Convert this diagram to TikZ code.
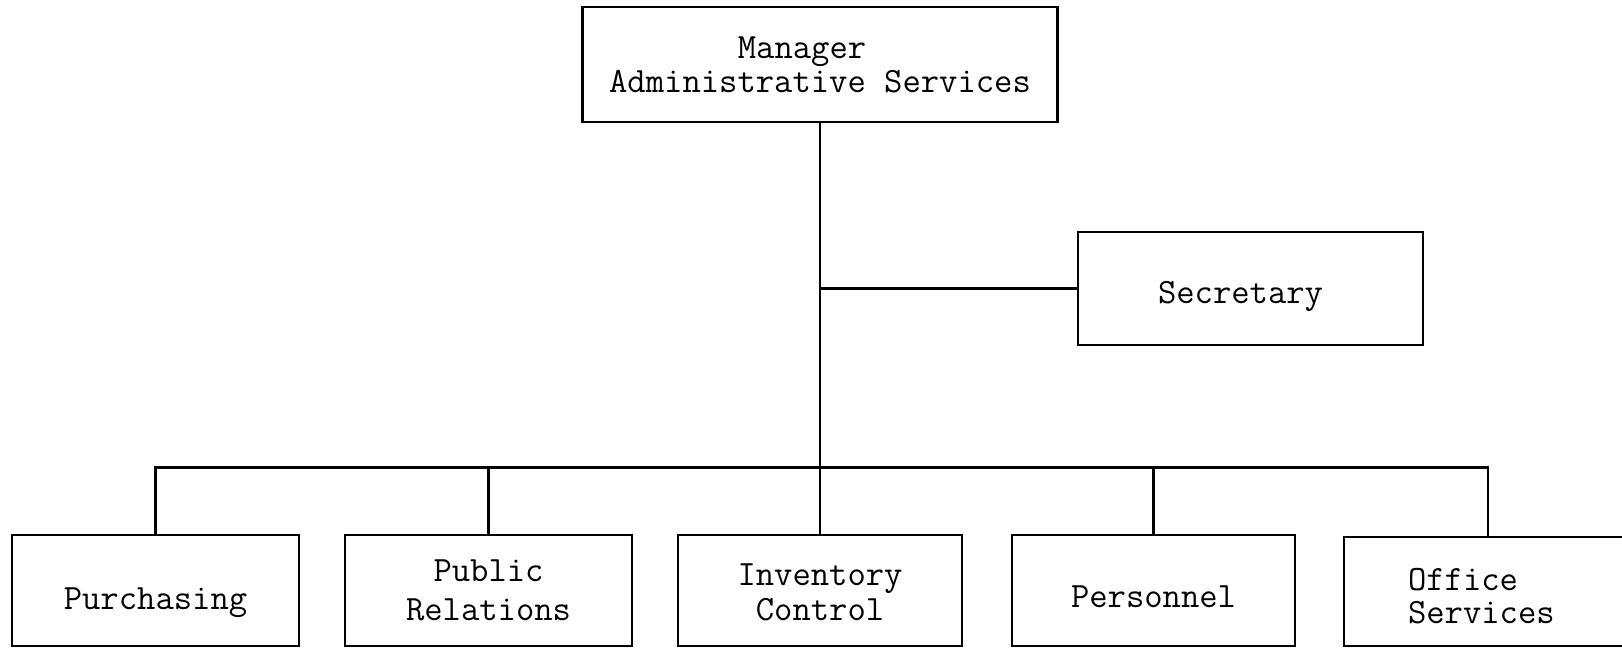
\documentclass[tikz,border=0pt]{standalone}
\usepackage{fontspec}
% lower a label inside its box without changing the box's own size
\newcommand{\lowered}[2]{\raisebox{-#1}[\height][\depth]{#2}}
\begin{document}
\begin{tikzpicture}[x=0.5pt,y=-0.5pt,
  box/.style={draw, line width=1.4pt, rectangle, inner sep=0pt, align=center,
    font=\ttfamily\fontsize{17.8}{17}\selectfont},
  link/.style={line width=1.3pt}]
\useasboundingbox (0,0) rectangle (1622,648);

% head of the unit
\node[box, minimum width=237.5pt, minimum height=57.5pt] (top) at (820,64.5)
  {Manager\hspace*{18pt}\\Administrative Services};
% staff position
\node[box, minimum width=172.5pt, minimum height=56.5pt] (sec) at (1250.5,288.5)
  {\lowered{4pt}{Secretary}\hspace*{10pt}};
% line departments
\node[box, minimum width=143.5pt, minimum height=55.5pt] (pur) at (155.5,590.5)
  {\lowered{6pt}{Purchasing}};
\node[box, minimum width=143.5pt, minimum height=55.5pt] (pr) at (488.5,590.5)
  {\lowered{0pt}{\parbox{130pt}{\centering\baselineskip=19.5pt Public\\Relations}}};
\node[box, minimum width=142pt, minimum height=55.5pt] (inv) at (820,590.5)
  {\lowered{1pt}{\parbox{130pt}{\centering\baselineskip=17.5pt Inventory\\Control}}};
\node[box, minimum width=141.5pt, minimum height=55.5pt] (per) at (1153.5,590.5)
  {\lowered{3pt}{Personnel}};
\node[box, minimum width=144pt, minimum height=54.5pt] (off) at (1488,591.5)
  {\lowered{2.5pt}{\parbox{80pt}{\raggedright\baselineskip=16.5pt Office\\Services}}};

% reporting lines
\coordinate (bus) at (820,467.5);
\draw[link] (top.south) -- (inv.north);
\draw[link] (top.south |- sec.west) -- (sec.west);
\draw[link] (pur.north) |- (bus) -| (off.north);
\draw[link] (pr.north) -- (pr.north |- bus);
\draw[link] (per.north) -- (per.north |- bus);
\end{tikzpicture}
\end{document}
